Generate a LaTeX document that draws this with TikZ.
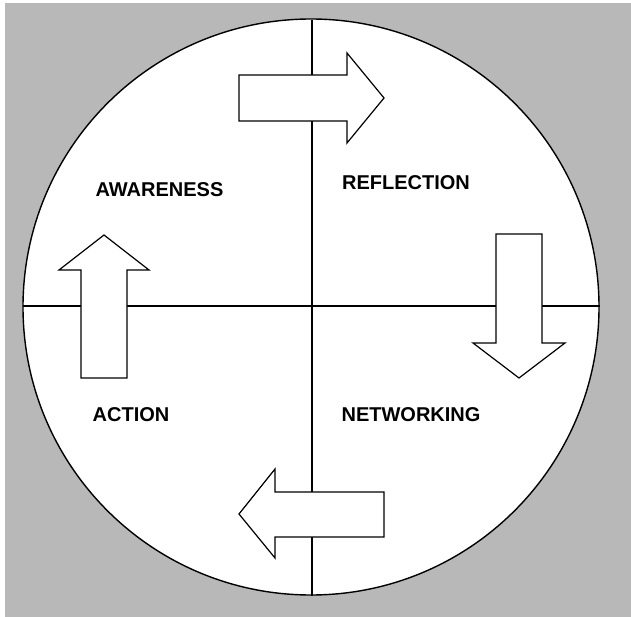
\documentclass[tikz,border=0pt]{standalone}
\usepackage{fontspec}
\setmainfont{Liberation Sans}
\definecolor{stipple}{RGB}{184,184,184}

\begin{document}
\begin{tikzpicture}[x=1pt, y=-1pt,
        quadrant/.style={font=\bfseries\fontsize{20}{20}\selectfont, inner sep=0pt},
        pfeil/.style={draw=black, fill=white, line width=1.2pt, line join=miter}]

        % Hintergrund
        \begin{scope}
            \fill[white] (0,0) rectangle (631,617);
            \fill[stipple] (5,3) rectangle (631,617);
        \end{scope}

        % Kreis mit Achsen
        \begin{scope}
            \draw[fill=white, line width=1.4pt] (311,307) circle (288);

            % Achsen
            \draw[line width=1.2pt] (23,306) -- (600,306);
            \draw[line width=1.2pt] (312,20) -- (312,596);
        \end{scope}

        % Pfeile
        \begin{scope}
            % oben, nach rechts
            \draw[pfeil] (239,75) -- (347,75) -- (347,53) -- (384,98) -- (347,143) -- (347,121) -- (239,121) -- cycle;

            % rechts, nach unten
            \draw[pfeil] (496,234) -- (542,234) -- (542,343) -- (565,343) -- (519,378) -- (473,343) -- (496,343) -- cycle;

            % unten, nach links
            \draw[pfeil] (384,492) -- (275,492) -- (275,469) -- (239,514) -- (275,558) -- (275,537) -- (384,537) -- cycle;

            % links, nach oben
            \draw[pfeil] (81,378) -- (81,270) -- (59,270) -- (104,235) -- (149,270) -- (127,270) -- (127,378) -- cycle;
        \end{scope}

        % Beschriftung
        \node[quadrant] (awareness) at (159.5,190) {AWARENESS};
        \node[quadrant] (reflection) at (406,183) {REFLECTION};
        \node[quadrant] (action) at (131,415) {ACTION};
        \node[quadrant] (networking) at (411,415) {NETWORKING};

\end{tikzpicture}
\end{document}
